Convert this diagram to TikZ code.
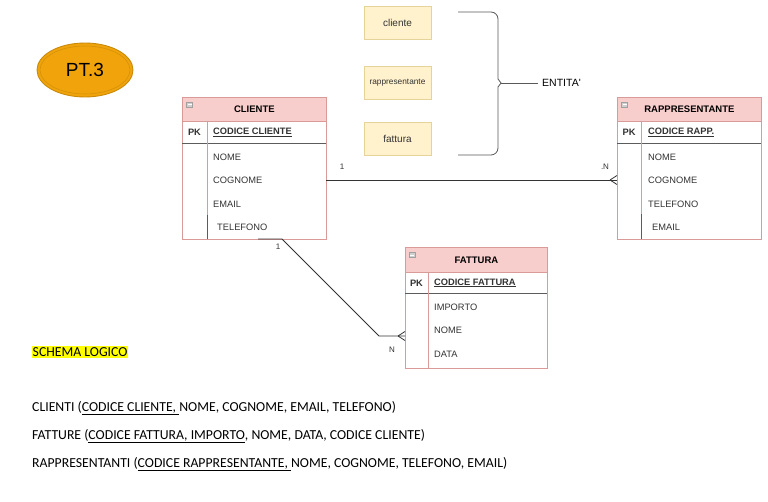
\documentclass[tikz,border=0pt]{standalone}
\usepackage{fontspec}
\setmainfont{Liberation Sans}
\newfontfamily\carl{Carlito}
\usetikzlibrary{shapes.geometric}
\definecolor{hdr}{HTML}{F8CECC}
\definecolor{bord}{HTML}{D99A9A}
\definecolor{ybox}{HTML}{FFF2CC}
\definecolor{ybord}{HTML}{D6B656}
\definecolor{org}{HTML}{F0A30A}
\definecolor{orgd}{HTML}{C98A0A}
\definecolor{txt}{HTML}{333333}
\definecolor{hl}{HTML}{FFFF00}
\definecolor{icon}{HTML}{A0A0A0}
\tikzset{
  tbox/.style={draw=bord, line width=0.8pt, fill=white, inner sep=0pt},
  hdrbox/.style={draw=bord, line width=0.8pt, fill=hdr, inner sep=0pt, font=\fontsize{9.5}{10}\selectfont\bfseries, text=black},
  fld/.style={anchor=west, inner sep=0pt, font=\fontsize{9.3}{10}\selectfont, text=txt},
  pkt/.style={inner sep=0pt, font=\fontsize{9.3}{10}\selectfont\bfseries, text=txt},
  pkf/.style={anchor=west, inner sep=0pt, font=\fontsize{9.3}{10}\selectfont\bfseries, text=txt},
  darkline/.style={draw=txt!80, line width=1pt},
  pinkline/.style={draw=bord, line width=0.8pt},
  ibox/.style={draw=icon, fill=icon!50, minimum width=6pt, minimum height=5pt, inner sep=0pt},
  ybx/.style={draw=ybord!60, fill=ybox, line width=0.6pt, minimum width=67pt, minimum height=33pt, inner sep=0pt, font=\fontsize{10}{12}\selectfont, text=txt},
  conn/.style={draw=txt, line width=0.8pt},
  card/.style={inner sep=0pt, font=\fontsize{8}{9}\selectfont, text=txt},
  ltext/.style={anchor=west, inner sep=0pt, font=\carl\fontsize{13.75}{15}\selectfont, text=black},
  bracestyle/.style={draw=gray!70!black, line width=0.8pt},
}
\begin{document}
\begin{tikzpicture}[x=1pt,y=-1pt]
\useasboundingbox (0,0) rectangle (768,502);
\fill[white] (0,0) rectangle (768,502);

% PT.3 ellipse
\node[ellipse, draw=orgd, fill=org, line width=0.9pt, minimum width=96pt, minimum height=54pt, inner sep=0pt,
      font=\fontsize{19}{20}\selectfont, text=black] (pt) at (85,70) {PT.3};
\draw[orgd!70!org, line width=0.6pt] (pt.center) ellipse [x radius=45pt, y radius=24pt];

% entity boxes
\node[ybx] (ycli) at (397.5,22.5) {cliente};
\node[ybx, font=\fontsize{8.3}{10}\selectfont] (yrap) at (397.5,83) {rappresentante};
\node[ybx] (yfat) at (397.5,139) {fattura};

% brace
\coordinate (bt) at (458,12);
\coordinate (bb) at (458,155);
\coordinate (bm) at (501,83);
\draw[bracestyle, rounded corners=7pt] (bt) -- (498,12) -- (498,79);
\draw[bracestyle] (498,79) -- (bm) -- (498,87);
\draw[bracestyle, rounded corners=7pt] (498,87) -- (498,155) -- (bb);
\node[anchor=west, inner sep=0pt, font=\fontsize{10.5}{12}\selectfont, text=black] (ent) at (542,83) {ENTITA\textquotesingle};
\draw[bracestyle] (bm) -- ([xshift=-4pt]ent.west);

% ---------------- CLIENTE
\node[tbox, minimum width=144pt, minimum height=142pt, anchor=north west] (cli) at (182,97) {};
\node[hdrbox, minimum width=144pt, minimum height=24pt, anchor=north west] (clih) at (182,97) {CLIENTE};
\node[ibox] (clii) at (189.5,104.5) {};
\draw[white, line width=0.7pt] (187.5,104.5) -- (191.5,104.5);
\draw[darkline] (182,144) -- (326,144);
\draw[pinkline] (207,121) -- (207,215);
\draw[darkline] (207,215) -- (207,239);
\node[pkt] (clipk) at (194.5,132.5) {PK};
\node[pkf] (clic) at (213,132.5) {\underline{CODICE CLIENTE}};
\node[fld] (clin) at (213,157) {NOME};
\node[fld] (clicg) at (213,180) {COGNOME};
\node[fld] (clie) at (213,204) {EMAIL};
\node[fld] (clit) at (217,227) {TELEFONO};

% ---------------- RAPPRESENTANTE
\node[tbox, minimum width=144pt, minimum height=142pt, anchor=north west] (rap) at (617,97) {};
\node[hdrbox, minimum width=144pt, minimum height=24pt, anchor=north west] (raph) at (617,97) {RAPPRESENTANTE};
\node[ibox] (rapi) at (624.5,104.5) {};
\draw[white, line width=0.7pt] (622.5,104.5) -- (626.5,104.5);
\draw[darkline] (617,144) -- (761,144);
\draw[pinkline] (641,121) -- (641,214);
\draw[darkline] (641,214) -- (641,239);
\node[pkt] (rappk) at (629,132.5) {PK};
\node[pkf] (rapc) at (648,132.5) {\underline{CODICE RAPP.}};
\node[fld] (rapn) at (648,157) {NOME};
\node[fld] (rapcg) at (648,180) {COGNOME};
\node[fld] (rapt) at (648,204) {TELEFONO};
\node[fld] (rape) at (652,227) {EMAIL};

% ---------------- FATTURA
\node[tbox, minimum width=142pt, minimum height=121pt, anchor=north west] (fat) at (405,247) {};
\node[hdrbox, minimum width=142pt, minimum height=25pt, anchor=north west] (fath) at (405,247) {FATTURA};
\node[ibox] (fati) at (412,255) {};
\draw[white, line width=0.7pt] (410,255) -- (414,255);
\draw[darkline] (405,294) -- (547,294);
\draw[pinkline] (428,272) -- (428,368);
\node[pkt] (fatpk) at (416.5,283) {PK};
\node[pkf] (fatc) at (434,283) {\underline{CODICE FATTURA}};
\node[fld] (fati2) at (434,307) {IMPORTO};
\node[fld] (fatn) at (434,330) {NOME};
\node[fld] (fatd) at (434,354) {DATA};

% ---------------- connectors
\coordinate (c1a) at (326,180);
\coordinate (c1b) at (617,180);
\coordinate (c1f) at (610,180);
\draw[conn] (c1a) -- (c1b);
\draw[conn] (c1f) -- (617,175.5);
\draw[conn] (c1f) -- (617,184.5);
\node[card] (n1a) at (342,167) {1};
\node[card] (n1b) at (605,167) {.N};

\coordinate (c2s) at (258,239);
\coordinate (c2a) at (282,239);
\coordinate (c2k) at (379,336);
\coordinate (c2b) at (405,336);
\coordinate (c2f) at (398,336);
\draw[conn] (c2s) -- (c2a) -- (c2k) -- (c2b);
\draw[conn] (c2f) -- (405,331.5);
\draw[conn] (c2f) -- (405,340.5);
\node[card] (n2a) at (278,247) {1};
\node[card] (n2b) at (392,350) {N};

% ---------------- schema logico
\node[ltext, fill=hl, inner xsep=0.5pt, inner ysep=1.5pt] (sl) at (32,352) {SCHEMA LOGICO};
\node[ltext] (l1) at (32,408) {CLIENTI (\underline{CODICE CLIENTE,\ }NOME, COGNOME, EMAIL, TELEFONO)};
\node[ltext] (l2) at (32,436) {FATTURE (\underline{CODICE FATTURA, IMPORTO}, NOME, DATA, CODICE CLIENTE)};
\node[ltext] (l3) at (32,464) {RAPPRESENTANTI (\underline{CODICE RAPPRESENTANTE,\ }NOME, COGNOME, TELEFONO, EMAIL)};
\end{tikzpicture}
\end{document}
